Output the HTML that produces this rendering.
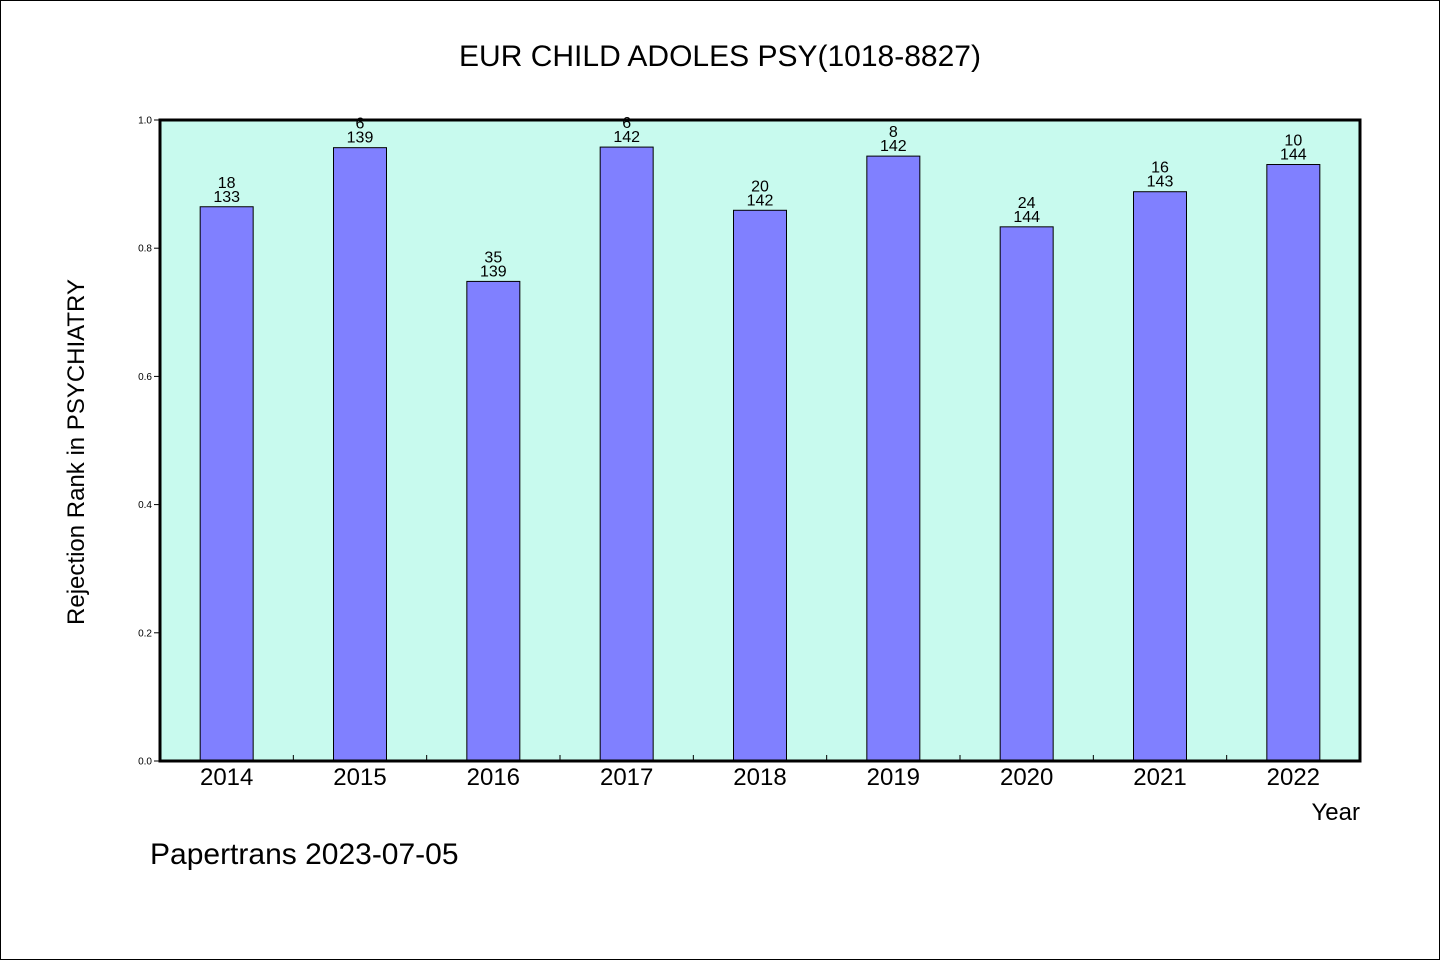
<!DOCTYPE html>
<html><head><meta charset="utf-8"><style>
html,body{margin:0;padding:0;background:#fff}
svg{display:block}
text{font-family:"WenQuanYi Zen Hei","Liberation Sans",sans-serif;fill:#000}
</style></head><body>
<svg id="chart" width="1440" height="960">
<rect x="0.5" y="0.5" width="1439" height="959" fill="#fff" stroke="#000"/>
<text x="720" y="66" font-size="30" text-anchor="middle">EUR CHILD ADOLES PSY(1018-8827)</text>
<rect x="160" y="120" width="1200" height="641" fill="#c8faee"/>
<g id="bars"></g>
<g id="axes"></g>
<rect x="160" y="120" width="1200" height="641" fill="none" stroke="#000" stroke-width="3"/>
<text transform="translate(84,452) rotate(-90)" font-size="24" text-anchor="middle">Rejection Rank in PSYCHIATRY</text>
<text x="1360" y="820" font-size="24" text-anchor="end">Year</text>
<text x="150" y="864" font-size="30">Papertrans 2023-07-05</text>
</svg>
<script>
const years = ["2014","2015","2016","2017","2018","2019","2020","2021","2022"];
const ranks = [18,6,35,6,20,8,24,16,10];
const totals = [133,139,139,142,142,142,144,143,144];
const yTicks = [0,0.2,0.4,0.6,0.8,1.0];
const NS="http://www.w3.org/2000/svg";
const X0=160,X1=1360,Y0=761,Y1=120;
const band=(X1-X0)/years.length;
const xc=i=>X0+band*(i+0.5);
const ys=v=>Y0-(Y0-Y1)*v;
function mk(t,a,p){const e=document.createElementNS(NS,t);for(const k in a)e.setAttribute(k,a[k]);p.appendChild(e);return e;}
const gb=document.getElementById('bars'),ga=document.getElementById('axes');
years.forEach((y,i)=>{
  const v=1-ranks[i]/totals[i];
  const r=mk('rect',{x:xc(i)-26.5,y:ys(v),width:53,height:Y0-ys(v),fill:'#8080ff',stroke:'#000','stroke-width':1},gb);
  
  
  const t1=mk('text',{x:xc(i),y:ys(v)-5,'font-size':16,'text-anchor':'middle'},gb);
  t1.textContent=totals[i];
  
  
  const t2=mk('text',{x:xc(i),y:ys(v)-19,'font-size':16,'text-anchor':'middle'},gb);
  t2.textContent=ranks[i];
  
  
  const xl=mk('text',{x:xc(i),y:785,'font-size':24,'text-anchor':'middle'},ga);
  xl.textContent=y;
  
  
  if(i>0){
    const tk=mk('line',{x1:X0+band*i,x2:X0+band*i,y1:Y0,y2:Y0-6,stroke:'#000'},ga);
    
    
  }
});
yTicks.forEach(v=>{
  const tk=mk('line',{x1:X0-6,x2:X0,y1:ys(v),y2:ys(v),stroke:'#000'},ga);
  
  
  const tl=mk('text',{x:X0-8,y:ys(v)+3.5,'font-size':10,'text-anchor':'end'},ga);
  tl.textContent=v.toFixed(1);
  
  
});
</script>
</body></html>
